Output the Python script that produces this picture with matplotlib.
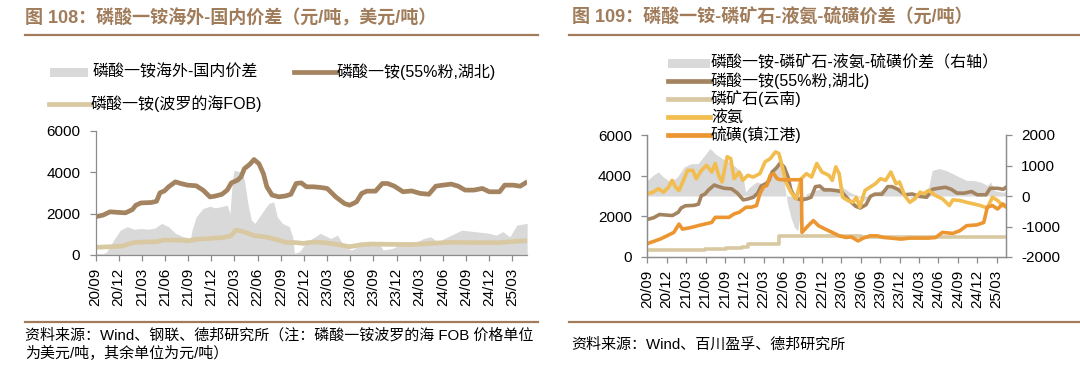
import matplotlib
matplotlib.use('Agg')
import matplotlib.pyplot as plt
from matplotlib.lines import Line2D
from matplotlib.patches import Rectangle

plt.rcParams['font.family'] = ['Liberation Sans', 'Noto Sans CJK SC']
plt.rcParams['axes.unicode_minus'] = False

# ---------------- data (x = months since 2020-09) ----------------
tick_labels = ['20/09', '20/12', '21/03', '21/06', '21/09', '21/12', '22/03', '22/06',
               '22/09', '22/12', '23/03', '23/06', '23/09', '23/12', '24/03', '24/06',
               '24/09', '24/12', '25/03']

# MAP (55% powder, Hubei), yuan/t
map_m = [0.0, 0.98, 1.88, 2.99, 3.89, 4.78, 5.23, 5.90, 7.24, 7.91, 8.35, 8.93, 9.47, 10.36,
         11.03, 11.92, 13.04, 13.93, 14.83, 15.50, 16.39, 17.06, 17.60, 18.40, 18.85, 19.29,
         19.96, 20.54, 21.17, 21.75, 22.20, 22.87, 23.76, 24.65, 25.32, 25.99, 26.66, 27.33,
         28.23, 29.12, 30.01, 31.13, 32.25, 32.92, 33.81, 34.48, 35.15, 36.27, 37.16, 37.83,
         38.72, 39.84, 40.96, 42.07, 43.19, 44.08, 44.98, 46.09, 46.99, 47.88, 49.00, 50.11,
         51.01, 52.35, 53.01, 54.13, 55.03, 55.70]
map_v = [1850, 1930, 2090, 2060, 2040, 2200, 2410, 2520, 2540, 2600, 3010, 3100, 3300, 3540,
         3460, 3380, 3350, 3140, 2810, 2850, 2940, 3140, 3490, 3620, 3780, 4180,
         4380, 4620, 4420, 3940, 3300, 2900, 2815, 2860, 2940, 3460, 3490, 3300,
         3300, 3270, 3220, 2810, 2490, 2410, 2570, 2980, 3090, 3090, 3460, 3460,
         3330, 3060, 3100, 2980, 2940, 3330, 3380, 3430, 3330, 3140, 3140, 3220,
         3060, 3060, 3380, 3380, 3330, 3490]

# MAP Baltic FOB, USD/t
fob_m = [0.0, 1.88, 3.44, 4.11, 5.0, 6.34, 7.91, 8.80, 10.81, 11.92, 13.04, 14.83, 16.61,
         17.51, 18.18, 18.85, 19.74, 20.63, 21.97, 23.31, 24.65, 25.99, 26.89, 28.23, 29.57,
         31.35, 32.92, 34.48, 35.82, 38.95, 41.18, 43.41, 45.65, 50.11, 52.35, 53.68, 55.70]
fob_v = [370, 400, 430, 510, 600, 630, 640, 720, 720, 680, 760, 800, 850,
         920, 1200, 1160, 1050, 930, 880, 760, 610, 600, 560, 630, 600,
         510, 400, 500, 530, 510, 510, 560, 610, 600, 600, 640, 690]

# MAP overseas - domestic spread
gapL_m = [0.0, 0.98, 1.43, 2.32, 3.22, 4.11, 5.0, 5.9, 6.79, 7.68, 8.58, 9.47, 10.36, 11.25,
          11.92, 12.24, 12.5, 13.04, 13.93, 14.83, 15.5, 16.17, 17.06, 17.42, 17.73, 17.95,
          18.85, 19.29, 19.74, 20.19, 20.63, 21.53, 22.42, 23.09, 23.54, 24.21, 25.1, 25.54,
          25.77, 26.44, 26.89, 27.78, 29.12, 30.46, 31.35, 32.25, 33.14, 34.03, 34.93, 36.71,
          37.25, 38.5, 39.39, 41.18, 42.52, 43.41, 44.31, 45.65, 47.44, 49.22, 51.0, 51.9,
          52.79, 53.68, 54.58, 55.92]
gapL_v = [80, 60, 150, 700, 1200, 1370, 1250, 1280, 1250, 1300, 1530, 1370, 1050, 900,
          850, 650, 1200, 1850, 2250, 2360, 2280, 2330, 2410, 2000, 3620, 4100,
          4020, 3620, 2490, 1690, 1530, 2010, 2490, 2570, 1850, 1530, 1370, 880,
          80, 160, 400, 720, 1050, 800, 960, 400, 240, 400, 530, 560,
          240, 320, 480, 560, 800, 880, 640, 880, 1200, 1130, 1050, 960,
          1130, 880, 1450, 1530]

# Liquid ammonia, yuan/t
nh3_m = [0, 0.91, 1.70, 2.50, 3.30, 3.83, 4.37, 4.90, 5.70, 6.23, 7.03, 7.56, 8.36, 9.16,
         9.96, 10.49, 11.02, 11.55, 12.35, 12.89, 13.42, 14.22, 14.75, 15.55, 16.35, 17.41,
         18.21, 19.01, 19.81, 20.34, 20.87, 21.41, 22.20, 23.00, 23.80, 24.60, 25.40, 26.20,
         27.00, 28.06, 28.59, 29.13, 29.66, 30.19, 30.99, 31.79, 32.32, 32.85, 33.65, 34.45,
         35.25, 36.05, 36.85, 37.65, 38.45, 38.98, 39.78, 40.58, 41.37, 42.17, 42.71, 43.50,
         44.57, 45.63, 46.70, 47.23, 48.30, 49.36, 50.43, 51.49, 52.56, 53.35, 54.15, 54.95,
         55.48]
nh3_v = [3110, 3190, 3360, 3190, 3440, 3770, 3440, 3270, 3850, 4260, 4260, 3850, 4260, 4510,
         4180, 4600, 4020, 3690, 4930, 4840, 3850, 4180, 3770, 4020, 3930, 4100,
         4680, 4840, 5170, 5090, 4430, 3690, 3190, 2860, 3850, 4100, 3930, 4600,
         4180, 4020, 3770, 4430, 4100, 2940, 2780, 2690, 2940, 2450, 3270, 3440,
         3600, 3850, 3770, 4180, 3600, 3690, 3020, 2690, 2860, 3190, 3110, 3270,
         3020, 2860, 2530, 2810, 2780, 2690, 2610, 2530, 2410, 2940, 2780, 2530,
         2450]

# Sulfur (Zhenjiang port), yuan/t
sul_m = [0, 0.91, 1.97, 3.04, 4.10, 4.90, 5.43, 6.76, 7.83, 8.89, 9.96, 10.49, 11.55, 12.62,
         13.42, 14.22, 15.28, 16.08, 16.88, 17.41, 17.94, 18.48, 19.01, 19.54, 20.07, 20.61,
         23.80, 23.91, 24.87, 25.67, 26.46, 27.53, 28.59, 29.66, 30.72, 31.52, 32.59, 33.39,
         34.45, 35.52, 36.58, 37.65, 39.24, 40.58, 41.91, 43.50, 44.57, 45.63, 47.23, 48.30,
         49.36, 50.96, 52.02, 52.56, 53.35, 54.15, 54.95, 55.48]
sul_v = [660, 760, 880, 1040, 1210, 1620, 1370, 1450, 1540, 1620, 1700, 1950, 1950, 1950,
         2120, 2200, 2450, 2450, 2530, 3110, 3440, 3520, 4020, 4100, 3850, 3800,
         3800, 1210, 1540, 1790, 1540, 1370, 1210, 1040, 960, 990, 790, 930,
         1040, 1040, 960, 930, 880, 930, 930, 930, 960, 1210, 1160, 1290,
         1540, 1580, 1700, 2450, 2530, 2360, 2610, 2480]

# Phosphate rock (Yunnan), yuan/t  (step series)
rock_m = [0, 4.0, 8.9, 12.1, 14.7, 15.6, 20.3, 33.0, 55.48]
rock_v = [330, 360, 400, 460, 500, 640, 1040, 990, 990]

# MAP - rock - ammonia - sulfur spread (right axis)
gapR_m = [0, 0.91, 1.70, 2.50, 3.57, 4.63, 5.70, 6.76, 7.83, 8.89, 9.69, 10.49, 11.55, 12.62,
          13.68, 14.75, 15.18, 15.81, 16.88, 17.94, 19.01, 20.07, 20.61, 21.14, 21.67, 22.20,
          22.74, 23.27, 23.80, 24.60, 25.93, 27.53, 29.13, 30.19, 31.26, 32.32, 33.39, 34.45,
          35.52, 36.58, 38.18, 39.78, 40.84, 41.91, 43.50, 44.04, 45.10, 46.17, 47.23, 48.30,
          49.36, 50.43, 51.49, 52.56, 53.09, 53.62, 54.69, 55.48]
gapR_v = [510, 680, 790, 620, 460, 620, 950, 1060, 1060, 1340, 1560, 1390, 1230, 1120,
          950, 730, 130, 290, 460, 400, 510, 1060, 950, 460, -260, -700,
          -1030, -1140, -370, 70, 180, 290, 240, 290, 130, 20, -150, -40,
          130, 240, 290, 130, -90, 20, 290, 840, 900, 840, 730, 620,
          510, 510, 460, 350, 460, 180, 130, 130]

# ---------------- styling ----------------
W, H = 1080, 370
BROWN = '#a48460'
BEIGE = '#d9c9a3'
GRAY = '#d9d9d9'
YELLOW = '#f2bd4e'
ORANGE = '#ec9632'
TITLE_C = '#a07c5a'
SPINE_C = '#8c8c8c'


def fx(x):
    return x / W


def fy(y):
    return 1 - y / H


fig = plt.figure(figsize=(W / 100, H / 100), dpi=100)

# titles & rules
fig.text(fx(25), fy(18), '图 108：磷酸一铵海外-国内价差（元/吨，美元/吨）', color=TITLE_C,
         fontsize=13, fontweight='bold', ha='left', va='center')
fig.text(fx(572), fy(18), '图 109：磷酸一铵-磷矿石-液氨-硫磺价差（元/吨）', color=TITLE_C,
         fontsize=13, fontweight='bold', ha='left', va='center')
for x0, x1, y in [(25, 538, 34.5), (569, 1080, 34.5), (25, 538, 322), (569, 1080, 322)]:
    fig.add_artist(Line2D([fx(x0), fx(x1)], [fy(y), fy(y)], color=TITLE_C, lw=1.6))

# footers
fig.text(fx(25), fy(335), '资料来源：Wind、钢联、德邦研究所（注：磷酸一铵波罗的海 FOB 价格单位',
         fontsize=10.8, ha='left', va='center', color='black')
fig.text(fx(25), fy(353), '为美元/吨，其余单位为元/吨）', fontsize=10.8, ha='left', va='center',
         color='black')
fig.text(fx(571), fy(345), '资料来源：Wind、百川盈孚、德邦研究所', fontsize=10.8, ha='left',
         va='center', color='black')


def style_axis(ax, right=False):
    ax.spines['top'].set_visible(False)
    if not right:
        ax.spines['right'].set_visible(False)
    for s in ['left', 'bottom', 'right']:
        ax.spines[s].set_color(SPINE_C)
        ax.spines[s].set_linewidth(0.9)
    ax.tick_params(axis='both', colors=SPINE_C, labelcolor='black', labelsize=11,
                   length=4, width=0.9, direction='out')
    ax.tick_params(axis='y', pad=7)
    ax.tick_params(axis='x', pad=5)
    ax.set_xticks(range(0, 3 * len(tick_labels), 3))
    ax.set_xticklabels(tick_labels, rotation=90)
    ax.set_ylim(0, 6000)
    ax.set_yticks([0, 2000, 4000, 6000])
    ax.margins(x=0)


# ---------------- left chart ----------------
axL = fig.add_axes([fx(95.5), fy(255), (527 - 95.5) / W, 124 / H])
axL.fill_between(gapL_m, 0, gapL_v, color=GRAY, lw=0)
axL.plot(map_m, map_v, color=BROWN, lw=3.4, solid_joinstyle='round')
axL.plot(fob_m, fob_v, color=BEIGE, lw=3.4, solid_joinstyle='round')
style_axis(axL)
axL.set_xlim(0, 55.9)

# left legend (manual)
fig.add_artist(Rectangle((fx(50), fy(77)), fx(88) - fx(50), fy(68) - fy(77), color=GRAY, lw=0))
fig.text(fx(93), fy(72), '磷酸一铵海外-国内价差', fontsize=11.5, ha='left', va='center')
fig.add_artist(Line2D([fx(294), fx(336)], [fy(72), fy(72)], color=BROWN, lw=3.4))
fig.text(fx(337), fy(72), '磷酸一铵(55%粉,湖北)', fontsize=11.5, ha='left', va='center')
fig.add_artist(Line2D([fx(48.5), fx(90.5)], [fy(104), fy(104)], color=BEIGE, lw=3.4))
fig.text(fx(91), fy(104), '磷酸一铵(波罗的海FOB)', fontsize=11.5, ha='left', va='center')

# ---------------- right chart ----------------
axR = fig.add_axes([fx(647.3), fy(257), (1006 - 647.3) / W, 122 / H])
axR2 = axR.twinx()
axR2.fill_between(gapR_m, 0, gapR_v, color=GRAY, lw=0)
axR2.set_ylim(-2000, 2000)
axR2.set_yticks([-2000, -1000, 0, 1000, 2000])
axR2.spines['top'].set_visible(False)
for s in ['left', 'bottom', 'right']:
    axR2.spines[s].set_color(SPINE_C)
    axR2.spines[s].set_linewidth(0.9)
axR2.tick_params(axis='y', colors=SPINE_C, labelcolor='black', labelsize=11, length=4,
                 width=0.9, pad=7)
axR.set_zorder(axR2.get_zorder() + 1)
axR.patch.set_visible(False)

axR.plot(map_m, map_v, color=BROWN, lw=2.6, solid_joinstyle='round')
axR.plot(rock_m, rock_v, color=BEIGE, lw=2.6, drawstyle='steps-post')
axR.plot(nh3_m, nh3_v, color=YELLOW, lw=2.6, solid_joinstyle='round')
axR.plot(sul_m, sul_v, color=ORANGE, lw=2.6, solid_joinstyle='round')
style_axis(axR, right=True)
axR.set_xlim(0, 55.45)
axR2.set_xlim(0, 55.45)

# right legend (manual)
rows = [63, 81, 99, 117, 135]
fig.add_artist(Rectangle((fx(667.5), fy(rows[0] + 4.5)), fx(710) - fx(667.5), 9 / H,
                         color=GRAY, lw=0))
entries = [(BROWN, '磷酸一铵(55%粉,湖北)'), (BEIGE, '磷矿石(云南)'), (YELLOW, '液氨'),
           (ORANGE, '硫磺(镇江港)')]
fig.text(fx(711), fy(rows[0]), '磷酸一铵-磷矿石-液氨-硫磺价差（右轴）', fontsize=11.5,
         ha='left', va='center')
for (c, lab), y in zip(entries, rows[1:]):
    fig.add_artist(Line2D([fx(667.5), fx(710)], [fy(y), fy(y)], color=c, lw=3.4))
    fig.text(fx(711), fy(y), lab, fontsize=11.5, ha='left', va='center')

fig.savefig('out.png', dpi=100)
